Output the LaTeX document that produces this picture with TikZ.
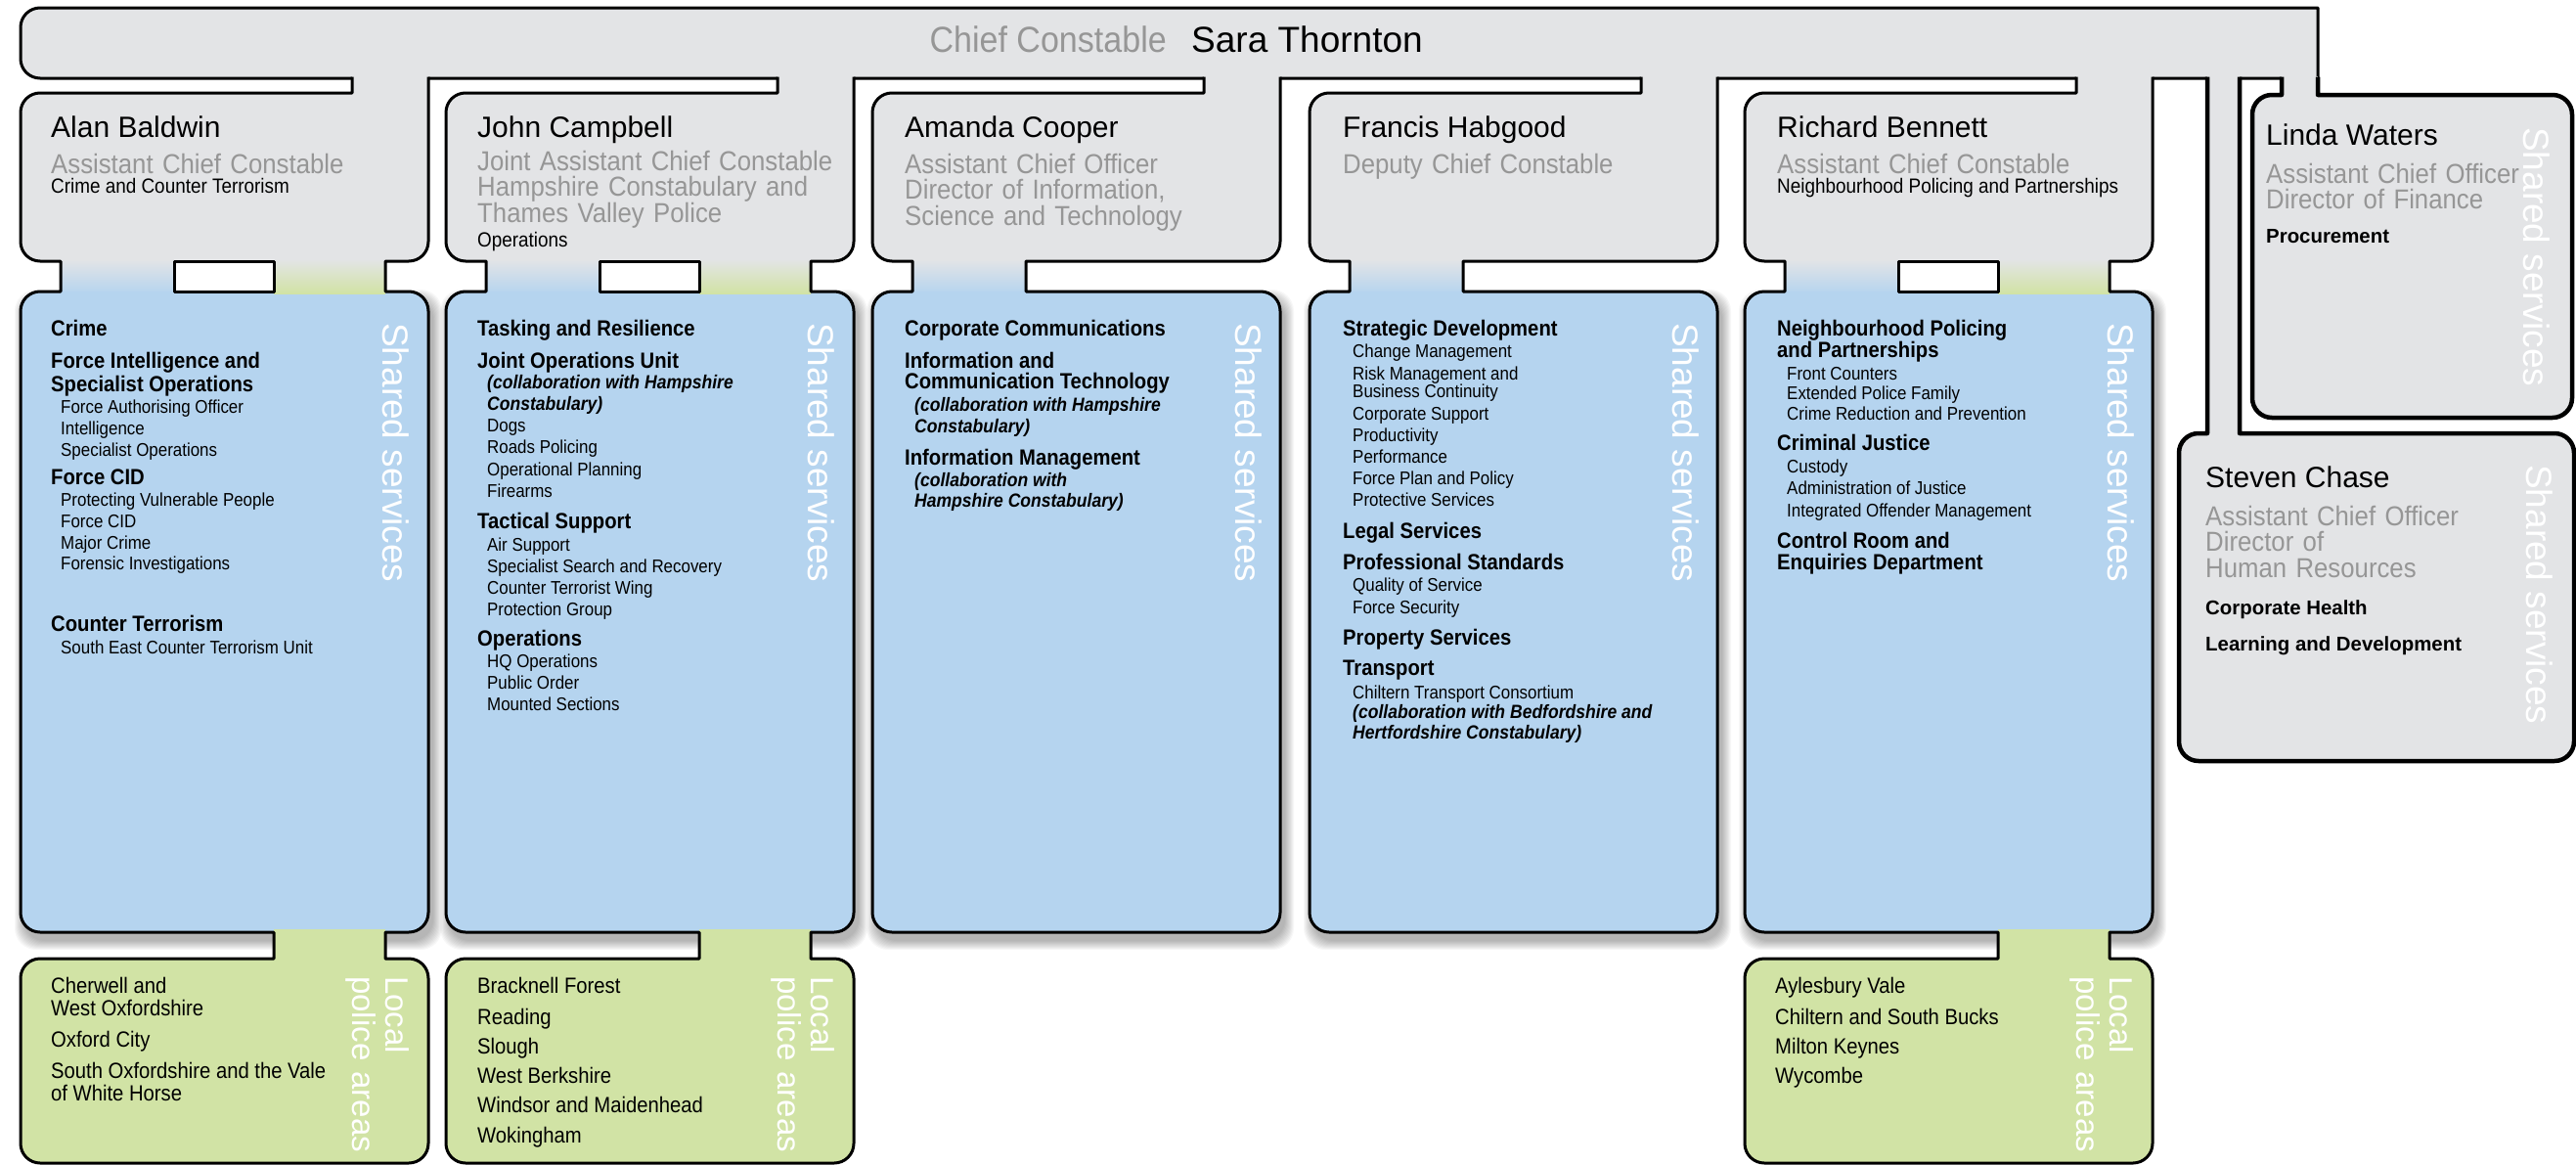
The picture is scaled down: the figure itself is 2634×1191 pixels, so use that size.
\documentclass[tikz,border=0pt]{standalone}
\usepackage{fontspec}
\setmainfont{Liberation Sans}
\newfontfamily\narrowfont[FakeStretch=0.9]{Liberation Sans}
\newfontfamily\lightfont[FakeStretch=0.92]{Liberation Sans}
\definecolor{cardgray}{RGB}{227,228,230}
\definecolor{sharedblue}{RGB}{181,212,239}
\definecolor{localgreen}{RGB}{209,227,165}
\definecolor{rolegray}{RGB}{150,150,150}

\begin{document}
\begin{tikzpicture}[
    x=1pt, y=-1pt,
    rim/.style = {draw=black, line width=3pt, line join=round},
    heavy rim/.style = {draw=black, line width=4.5pt, line join=round},
    person/.style = {font=\fontsize{30}{32}\selectfont, anchor=base west, inner sep=0},
    role/.style = {font=\lightfont\fontsize{28}{26.5}\selectfont, text=rolegray, anchor=base west, inner sep=0, text width=420pt, align=left},
    remit/.style = {font=\narrowfont\fontsize{21}{22}\selectfont, anchor=base west, inner sep=0},
    dept/.style = {font=\bfseries\fontsize{20.4}{22}\selectfont, anchor=base west, inner sep=0},
    hd/.style = {font=\narrowfont\bfseries\fontsize{22.5}{24}\selectfont, anchor=base west, inner sep=0},
    sb/.style = {font=\narrowfont\fontsize{18.8}{22}\selectfont, anchor=base west, inner sep=0, xshift=10pt},
    cl/.style = {font=\narrowfont\bfseries\itshape\fontsize{19.5}{22}\selectfont, anchor=base west, inner sep=0, xshift=10pt},
    area/.style = {font=\narrowfont\fontsize{22.5}{23}\selectfont, anchor=base west, inner sep=0},
    shared/.style = {font=\fontsize{37}{40}\selectfont, text=white, rotate=-90, anchor=north west, inner sep=0},
    localtxt/.style = {font=\fontsize{33}{34}\selectfont, text=white, rotate=-90, anchor=north west, inner sep=0, text width=220pt, align=left}
]

\useasboundingbox (0,0) rectangle (2634,1191);
\fill[white] (0,0) rectangle (2634,1191);

\foreach \lx in {21,456,892,1339,1784}
  \foreach \i in {1,...,10}
    \fill[black, opacity=0.03, rounded corners=22] (\lx-\i+4,298-\i+8) rectangle (\lx+417+\i+4,953+\i+8);

\filldraw[rim, fill=cardgray] (2370,80) -- (41,80) arc[start angle=90, end angle=180, radius=20]
    -- (21,28) arc[start angle=180, end angle=270, radius=20] -- (2370,8) -- cycle;

\foreach \lx/\g in {21/1,456/1,892/0,1339/0,1784/1}{
  \pgfmathsetmacro\rx{\lx+417}
  \pgfmathsetmacro\sx{\rx-78}
  \fill[cardgray] (\sx,78) rectangle (\rx,120);
  \fill[cardgray, rounded corners=20] (\lx,95) rectangle (\rx,267);
  \shade[top color=cardgray, bottom color=sharedblue] (\lx+41,265) rectangle (\lx+157,300);
  \fill[sharedblue, rounded corners=20] (\lx,298) rectangle (\rx,953);
  \ifnum\g=1
    \shade[top color=cardgray, bottom color=localgreen] (\lx+259,265) rectangle (\lx+373,300);
    \fill[localgreen] (\lx+259,950) rectangle (\lx+373,985);
    \fill[localgreen, rounded corners=20] (\lx,980) rectangle (\rx,1189);
    \draw[rim] (\sx,78.5) -- (\sx,95) -- (\lx+20,95)
      arc[start angle=270, end angle=180, radius=20] -- (\lx,247)
      arc[start angle=180, end angle=90, radius=20] -- (\lx+41,267) -- (\lx+41,298) -- (\lx+20,298)
      arc[start angle=270, end angle=180, radius=20] -- (\lx,933)
      arc[start angle=180, end angle=90, radius=20] -- (\lx+259,953) -- (\lx+259,980) -- (\lx+20,980)
      arc[start angle=270, end angle=180, radius=20] -- (\lx,1169)
      arc[start angle=180, end angle=90, radius=20] -- (\rx-20,1189)
      arc[start angle=90, end angle=0, radius=20] -- (\rx,1000)
      arc[start angle=0, end angle=-90, radius=20] -- (\lx+373,980) -- (\lx+373,953) -- (\rx-20,953)
      arc[start angle=90, end angle=0, radius=20] -- (\rx,318)
      arc[start angle=0, end angle=-90, radius=20] -- (\lx+373,298) -- (\lx+373,267) -- (\rx-20,267)
      arc[start angle=90, end angle=0, radius=20] -- (\rx,78.5);
    \draw[rim, fill=white] (\lx+157,267) rectangle (\lx+259,298);
  \else
    \draw[rim] (\sx,78.5) -- (\sx,95) -- (\lx+20,95)
      arc[start angle=270, end angle=180, radius=20] -- (\lx,247)
      arc[start angle=180, end angle=90, radius=20] -- (\lx+41,267) -- (\lx+41,298) -- (\lx+20,298)
      arc[start angle=270, end angle=180, radius=20] -- (\lx,933)
      arc[start angle=180, end angle=90, radius=20] -- (\rx-20,953)
      arc[start angle=90, end angle=0, radius=20] -- (\rx,318)
      arc[start angle=0, end angle=-90, radius=20] -- (\lx+157,298) -- (\lx+157,267) -- (\rx-20,267)
      arc[start angle=90, end angle=0, radius=20] -- (\rx,78.5);
  \fi
}

\fill[cardgray] (2333,78) rectangle (2370,120);
\fill[cardgray, rounded corners=20] (2303,97) rectangle (2630,427);
\fill[cardgray] (2257,78) rectangle (2290,460);
\fill[cardgray, rounded corners=20] (2228,443) rectangle (2632,778);
\draw[heavy rim] (2370,78.5) -- (2370,97) -- (2610,97)
    arc[start angle=270, end angle=360, radius=20] -- (2630,407)
    arc[start angle=0, end angle=90, radius=20] -- (2323,427)
    arc[start angle=90, end angle=180, radius=20] -- (2303,117)
    arc[start angle=180, end angle=270, radius=20] -- (2333,97) -- (2333,78.5);
\draw[heavy rim] (2290,78.5) -- (2290,443) -- (2612,443)
    arc[start angle=270, end angle=360, radius=20] -- (2632,758)
    arc[start angle=0, end angle=90, radius=20] -- (2248,778)
    arc[start angle=90, end angle=180, radius=20] -- (2228,463)
    arc[start angle=180, end angle=270, radius=20] -- (2257,443) -- (2257,78.5);

\node[font=\lightfont\fontsize{37}{40}\selectfont, text=rolegray, anchor=base east, inner sep=0] (chief) at (1193,53) {Chief Constable};
\node[font=\fontsize{37}{40}\selectfont, anchor=base west, inner sep=0] (sara) at (1218,53) {Sara Thornton};

\node[person] (alan) at (52,140) {Alan Baldwin};
\node[role] (alanrole) at (52,177) {Assistant Chief Constable};
\node[remit] (alanremit) at (52,197) {Crime and Counter Terrorism};

\node[person] (john) at (488,140) {John Campbell};
\node[role] (johnrole) at (488,174) {Joint Assistant Chief Constable\\Hampshire Constabulary and\\Thames Valley Police};
\node[remit] (johnremit) at (488,252) {Operations};

\node[person] (amanda) at (925,140) {Amanda Cooper};
\node[role] (amandarole) at (925,177) {Assistant Chief Officer\\Director of Information,\\Science and Technology};

\node[person] (francis) at (1373,140) {Francis Habgood};
\node[role] (francisrole) at (1373,177) {Deputy Chief Constable};

\node[person] (richard) at (1817,140) {Richard Bennett};
\node[role] (richardrole) at (1817,177) {Assistant Chief Constable};
\node[remit] (richardremit) at (1817,197) {Neighbourhood Policing and Partnerships};

\node[person] (linda) at (2317,148) {Linda Waters};
\node[role] (lindarole) at (2317,187) {Assistant Chief Officer\\Director of Finance};
\node[dept] (procure) at (2317,248) {Procurement};

\node[person] (steven) at (2255,498) {Steven Chase};
\node[role] (stevenrole) at (2255,537) {Assistant Chief Officer\\Director of\\Human Resources};
\node[dept] (health) at (2255,628) {Corporate Health};
\node[dept] (learning) at (2255,665) {Learning and Development};

\foreach \y/\st/\tx in {343/hd/Crime, 376/hd/Force Intelligence and, 400/hd/Specialist Operations,
    422/sb/Force Authorising Officer, 444/sb/Intelligence, 466/sb/Specialist Operations,
    495/hd/Force CID, 517/sb/Protecting Vulnerable People, 539/sb/Force CID, 561/sb/Major Crime,
    582/sb/Forensic Investigations, 645/hd/Counter Terrorism, 668/sb/South East Counter Terrorism Unit}
  \node[\st] (a\y) at (52,\y) {\tx};

\foreach \y/\st/\tx in {343/hd/Tasking and Resilience, 376/hd/Joint Operations Unit,
    397/cl/{(collaboration with Hampshire}, 419/cl/{Constabulary)}, 441/sb/Dogs, 463/sb/Roads Policing,
    486/sb/Operational Planning, 508/sb/Firearms, 540/hd/Tactical Support, 563/sb/Air Support,
    585/sb/Specialist Search and Recovery, 607/sb/Counter Terrorist Wing, 629/sb/Protection Group,
    660/hd/Operations, 682/sb/HQ Operations, 704/sb/Public Order, 726/sb/Mounted Sections}
  \node[\st] (j\y) at (488,\y) {\tx};

\foreach \y/\st/\tx in {343/hd/Corporate Communications, 376/hd/Information and,
    397/hd/Communication Technology, 420/cl/{(collaboration with Hampshire}, 442/cl/{Constabulary)},
    475/hd/Information Management, 497/cl/{(collaboration with}, 518/cl/{Hampshire Constabulary)}}
  \node[\st] (m\y) at (925,\y) {\tx};

\foreach \y/\st/\tx in {343/hd/Strategic Development, 365/sb/Change Management, 388/sb/Risk Management and,
    406/sb/Business Continuity, 429/sb/Corporate Support, 451/sb/Productivity, 473/sb/Performance,
    495/sb/Force Plan and Policy, 517/sb/Protective Services, 550/hd/Legal Services,
    582/hd/Professional Standards, 604/sb/Quality of Service, 627/sb/Force Security,
    659/hd/Property Services, 690/hd/Transport, 714/sb/Chiltern Transport Consortium,
    734/cl/{(collaboration with Bedfordshire and}, 755/cl/{Hertfordshire Constabulary)}}
  \node[\st] (f\y) at (1373,\y) {\tx};

\foreach \y/\st/\tx in {343/hd/Neighbourhood Policing, 365/hd/and Partnerships, 388/sb/Front Counters,
    408/sb/Extended Police Family, 429/sb/Crime Reduction and Prevention, 460/hd/Criminal Justice,
    483/sb/Custody, 505/sb/Administration of Justice, 528/sb/Integrated Offender Management,
    560/hd/Control Room and, 582/hd/Enquiries Department}
  \node[\st] (r\y) at (1817,\y) {\tx};

\foreach \y/\tx in {1015/Cherwell and, 1038/West Oxfordshire, 1070/Oxford City,
    1102/South Oxfordshire and the Vale, 1125/of White Horse}
  \node[area] (ag\y) at (52,\y) {\tx};
\foreach \y/\tx in {1015/Bracknell Forest, 1047/Reading, 1077/Slough, 1107/West Berkshire,
    1137/Windsor and Maidenhead, 1168/Wokingham}
  \node[area] (jg\y) at (488,\y) {\tx};
\foreach \y/\tx in {1015/Aylesbury Vale, 1047/Chiltern and South Bucks, 1077/Milton Keynes, 1107/Wycombe}
  \node[area] (rg\y) at (1815,\y) {\tx};

\foreach \lx in {21,456,892,1339,1784}
  \node[shared] (ss\lx) at (\lx+398,330) {Shared services};
\node[shared] (sslinda) at (2607,130) {Shared services};
\node[shared] (sssteven) at (2610,475) {Shared services};

\foreach \lx in {21,456,1784}
  \node[localtxt] (lpa\lx) at (\lx+398,998) {Local\\police areas};

\end{tikzpicture}
\end{document}
